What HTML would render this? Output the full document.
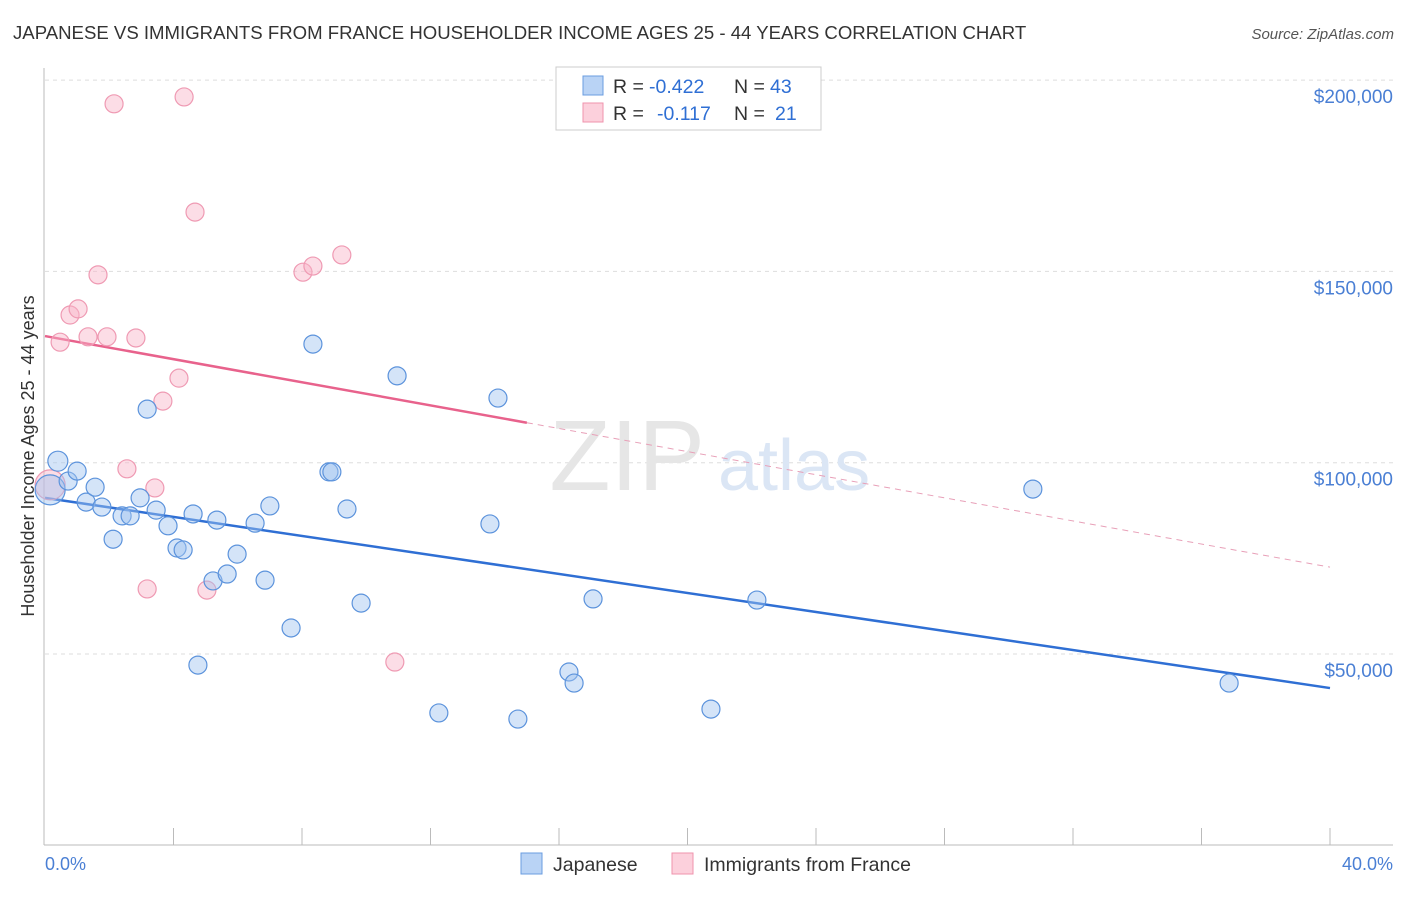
<!DOCTYPE html>
<html><head><meta charset="utf-8"><style>
body{margin:0;background:#fff;font-family:"Liberation Sans",sans-serif;}
svg text{font-family:"Liberation Sans",sans-serif;}
</style></head><body>
<svg id="c" width="1406" height="892">
<text x="13" y="39" font-size="18.6" fill="#333">JAPANESE VS IMMIGRANTS FROM FRANCE HOUSEHOLDER INCOME AGES 25 - 44 YEARS CORRELATION CHART</text>
<text x="1394" y="39" font-size="15" fill="#555" font-style="italic" text-anchor="end">Source: ZipAtlas.com</text>
<g id="grid"></g>
<text x="705" y="490" font-size="100" fill="#e6e6e6" font-family="Liberation Serif" text-anchor="end">ZIP</text>
<text x="718" y="490" font-size="72" fill="#dbe6f5">atlas</text>
<line x1="44" y1="68" x2="44" y2="845" stroke="#bbb"/>
<line x1="44" y1="845" x2="1393" y2="845" stroke="#bbb"/>
<g id="ticks"></g>
<text transform="translate(34,456) rotate(-90)" font-size="18" fill="#333" text-anchor="middle">Householder Income Ages 25 - 44 years</text>
<text x="45" y="870" font-size="18" fill="#4a7fd4">0.0%</text>
<text x="1393" y="870" font-size="18" fill="#4a7fd4" text-anchor="end">40.0%</text>
<g id="lines"></g>
<g id="pts"></g>
<g>
<rect x="556" y="67" width="265" height="63" fill="#fff" stroke="#ccc"/>
<rect x="583" y="76" width="20" height="19" fill="#b9d3f5" stroke="#6a9de0"/>
<rect x="583" y="103" width="20" height="19" fill="#fcd0dc" stroke="#ef93ad"/>
<g font-size="19.5">
<text x="613" y="93" fill="#333">R =</text><text x="649" y="93" fill="#2f6fd4">-0.422</text>
<text x="734" y="93" fill="#333">N =</text><text x="770" y="93" fill="#2f6fd4">43</text></g>
<g font-size="19.5">
<text x="613" y="120" fill="#333">R =</text><text x="657" y="120" fill="#2f6fd4">-0.117</text>
<text x="734" y="120" fill="#333">N =</text><text x="775" y="120" fill="#2f6fd4">21</text></g>
</g>
<rect x="521" y="853" width="21" height="21" fill="#b9d3f5" stroke="#6a9de0"/>
<text x="553" y="871" font-size="19.5" fill="#333">Japanese</text>
<rect x="672" y="853" width="21" height="21" fill="#fcd0dc" stroke="#ef93ad"/>
<text x="704" y="871" font-size="19.5" fill="#333">Immigrants from France</text>
</svg>
<script>
const yTicks=[50000,100000,150000,200000];
const yTickLabels=["$50,000","$100,000","$150,000","$200,000"];
const xTicks=[4,8,12,16,20,24,28,32,36,40];
const japX=[0.16,0.40,0.72,1.00,1.28,1.56,1.77,2.12,2.40,2.65,2.96,3.18,3.46,3.83,4.11,4.30,4.61,4.76,5.23,5.35,5.67,5.98,6.54,6.85,7.00,7.66,8.34,8.84,8.93,9.40,9.84,10.96,12.26,13.85,14.10,14.72,16.31,16.47,17.06,20.73,22.16,30.75,36.86];
const japY=[92900,100400,95200,97800,89700,93600,88400,80000,86100,86100,90800,114000,87600,83500,77700,77200,86600,47100,69100,85000,70900,76100,84200,69300,88700,56800,131000,97600,97600,87900,63300,122700,34600,84000,116900,33000,45300,42400,64400,35600,64100,93100,42400];
const japR=[15,10,9,9,9,9,9,9,9,9,9,9,9,9,9,9,9,9,9,9,9,9,9,9,9,9,9,9,9,9,9,9,9,9,9,9,9,9,9,9,9,9,9];
const frX=[0.16,0.47,0.78,1.03,1.34,1.65,1.93,2.15,2.55,2.83,3.18,3.42,3.67,4.17,4.33,4.67,5.04,8.03,8.34,9.24,10.89];
const frY=[94200,131500,138600,140200,132900,149100,132900,193800,98400,132600,67000,93400,116100,122100,195600,165500,66700,149800,151400,154300,47900];
const frR=[15,9,9,9,9,9,9,9,9,9,9,9,9,9,9,9,9,9,9,9,9];
const japTrend=[90800,41100];
const frTrend=[133100,72700];
const frSolidEnd=15;
const xs=v=>45+v/40*1285;
const ys=v=>654-(v-50000)/50000*191.3;
const NS="http://www.w3.org/2000/svg";
function mk(tag,at,parent){const e=document.createElementNS(NS,tag);for(const k in at)e.setAttribute(k,at[k]);document.getElementById(parent).appendChild(e);return e;}
yTicks.forEach((v,i)=>{
 const g=mk('line',{x1:45,x2:1393,y1:ys(v),y2:ys(v),stroke:'#ddd','stroke-dasharray':'4,4'},'grid');
 
 
 const t=mk('text',{x:1393,y:ys(v)+23,'font-size':19,fill:'#4a7fd4','text-anchor':'end'},'grid');
 t.textContent=yTickLabels[i];
 
 
});
xTicks.forEach(v=>{
 const l=mk('line',{x1:xs(v),x2:xs(v),y1:828,y2:845,stroke:'#bbb'},'ticks');
 
 
});
let l1=mk('line',{x1:xs(0),y1:ys(japTrend[0]),x2:xs(40),y2:ys(japTrend[1]),stroke:'#2f6fd4','stroke-width':2.5},'lines');


const fy=x=>frTrend[0]+(frTrend[1]-frTrend[0])*x/40;
let l2=mk('line',{x1:xs(0),y1:ys(fy(0)),x2:xs(frSolidEnd),y2:ys(fy(frSolidEnd)),stroke:'#e8628c','stroke-width':2.5},'lines');


let l3=mk('line',{x1:xs(frSolidEnd),y1:ys(fy(frSolidEnd)),x2:xs(40),y2:ys(fy(40)),stroke:'#e8a0b8','stroke-width':1,'stroke-dasharray':'6,5'},'lines');


frX.forEach((x,i)=>{
 const c=mk('circle',{cx:xs(x),cy:ys(frY[i]),r:frR[i],fill:'rgba(248,180,200,0.45)',stroke:'#ef9ab3','stroke-width':1.2},'pts');
 
 
});
japX.forEach((x,i)=>{
 const c=mk('circle',{cx:xs(x),cy:ys(japY[i]),r:japR[i],fill:'rgba(160,196,240,0.45)',stroke:'#5c93dc','stroke-width':1.2},'pts');
 
 
});
</script>
</body></html>
